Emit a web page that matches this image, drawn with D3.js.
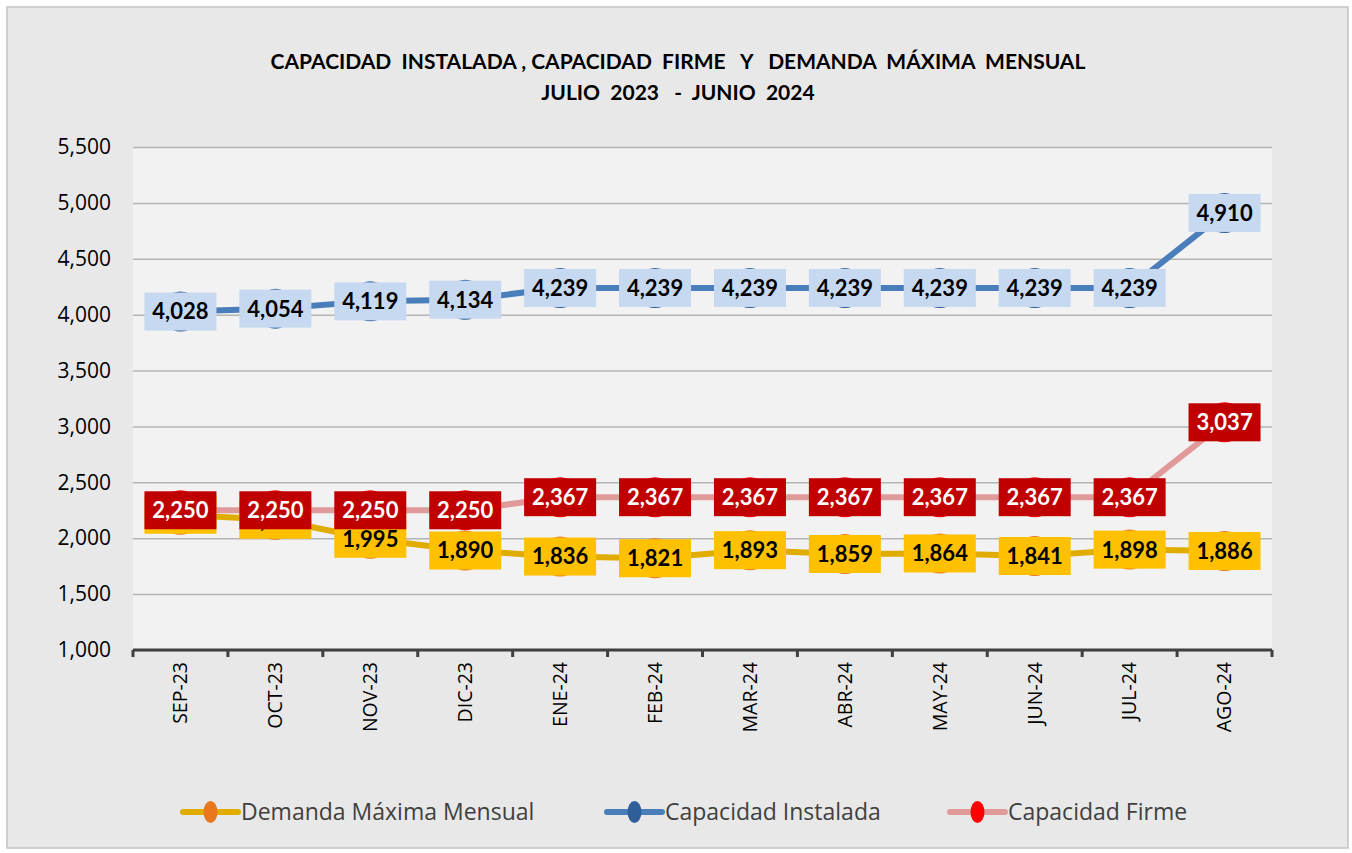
<!DOCTYPE html>
<html>
<head>
<meta charset="utf-8">
<script src="https://cdn.jsdelivr.net/npm/d3@7"></script>
<style>
  body { margin: 0; background: #ffffff; }
  #chart { width: 1352px; height: 853px; }
</style>
</head>
<body>
<div id="chart"></div>
<script>
// Data
const categories = ["SEP-23", "OCT-23", "NOV-23", "DIC-23", "ENE-24", "FEB-24", "MAR-24", "ABR-24", "MAY-24", "JUN-24", "JUL-24", "AGO-24"];
const demanda = [2210, 2165, 1995, 1890, 1836, 1821, 1893, 1859, 1864, 1841, 1898, 1886];
const instalada = [4028, 4054, 4119, 4134, 4239, 4239, 4239, 4239, 4239, 4239, 4239, 4910];
const firme = [2250, 2250, 2250, 2250, 2367, 2367, 2367, 2367, 2367, 2367, 2367, 3037];
const yTicks = [1000, 1500, 2000, 2500, 3000, 3500, 4000, 4500, 5000, 5500];
const titleLines = ["CAPACIDAD  INSTALADA , CAPACIDAD  FIRME   Y   DEMANDA  MÁXIMA  MENSUAL", "JULIO  2023   -  JUNIO  2024"];

const series = [
  { name: "Demanda Máxima Mensual", values: demanda, line: "#e0ac00", marker: "#e8771e", box: "#ffc000", text: "#000000" },
  { name: "Capacidad Instalada", values: instalada, line: "#4a7ebb", marker: "#2f5f98", box: "#c6d9f1", text: "#000000" },
  { name: "Capacidad Firme", values: firme, line: "#e09a9a", marker: "#ff0000", box: "#c00000", text: "#ffffff" }
];

const width = 1352;
const height = 853;
const svg = d3.select("#chart")
  .append("svg")
  .attr("width", width)
  .attr("height", height);

// Outer frame
svg.append("rect")
  .attr("x", 7).attr("y", 7)
  .attr("width", 1341).attr("height", 841)
  .attr("fill", "#e8e8e8")
  .attr("stroke", "#c4c4c4")
  .attr("stroke-width", 1.5);

const plot = { left: 133, right: 1272, top: 147, bottom: 650 };

// Plot area
svg.append("rect")
  .attr("x", plot.left).attr("y", plot.top)
  .attr("width", plot.right - plot.left).attr("height", plot.bottom - plot.top)
  .attr("fill", "#f2f2f2");

// Scales
const x = d3.scaleBand()
  .domain(categories)
  .range([plot.left, plot.right]);
const y = d3.scaleLinear()
  .domain([1000, 5500])
  .range([plot.bottom, plot.top]);
const cx = d => x(d) + x.bandwidth() / 2;

// Title
svg.append("g").selectAll("text")
  .data(titleLines)
  .enter().append("text")
  .attr("x", 678)
  .attr("y", (d, i) => 69 + i * 31)
  .attr("text-anchor", "middle")
  .style("font-family", "Lato, sans-serif")
  .style("font-weight", "bold")
  .style("font-size", "21px")
  .style("white-space", "pre")
  .attr("fill", "#000")
  .text(d => d);

// Gridlines and y labels
const yAxis = svg.append("g")
  .attr("transform", `translate(${plot.left}, 0)`)
  .call(d3.axisLeft(y).tickValues(yTicks).tickSize(-(plot.right - plot.left)).tickPadding(22).tickFormat(d3.format(",")));
yAxis.select(".domain").remove();
yAxis.selectAll(".tick line")
  .attr("stroke", "#b4b4b4")
  .attr("stroke-width", 1.5);
yAxis.selectAll(".tick text")
  .style("font-family", "'Open Sans', sans-serif")
  .style("font-size", "21px")
  .attr("fill", "#000");

// X axis
const xAxis = svg.append("g")
  .attr("transform", `translate(0, ${plot.bottom})`)
  .call(d3.axisBottom(x).tickSize(0).tickPadding(0));
xAxis.select(".domain")
  .attr("stroke", "#404040")
  .attr("stroke-width", 3)
  .attr("d", `M${plot.left},0H${plot.right}`);
xAxis.selectAll(".tick text")
  .attr("transform", "rotate(-90)")
  .attr("x", -12)
  .attr("y", 0)
  .attr("dy", "0.35em")
  .attr("text-anchor", "end")
  .style("font-family", "'Open Sans', sans-serif")
  .style("font-size", "19.5px")
  .attr("fill", "#000");
// tick marks at category boundaries
const bounds = categories.map(c => x(c)).concat([plot.right]);
xAxis.selectAll(".bound")
  .data(bounds)
  .enter().append("line")
  .attr("class", "bound")
  .attr("x1", d => d).attr("x2", d => d)
  .attr("y1", 0).attr("y2", 7)
  .attr("stroke", "#404040")
  .attr("stroke-width", 3);

// Lines
const line = d3.line()
  .x((d, i) => cx(categories[i]))
  .y(d => y(d));

series.forEach(s => {
  svg.append("path")
    .datum(s.values)
    .attr("d", line)
    .attr("fill", "none")
    .attr("stroke", s.line)
    .attr("stroke-width", 6)
    .attr("stroke-linejoin", "round");
});

// Markers
series.forEach(s => {
  svg.append("g").selectAll("circle")
    .data(s.values)
    .enter().append("circle")
    .attr("cx", (d, i) => cx(categories[i]))
    .attr("cy", d => y(d))
    .attr("r", 20)
    .attr("fill", s.marker);
});

// Data labels (the firm labels cover the first two demand labels, as in the original)
const fmt = d3.format(",");
series.forEach(s => {
  const g = svg.append("g").selectAll("g")
    .data(s.values)
    .enter().append("g")
    .attr("transform", (d, i) => `translate(${cx(categories[i])}, ${y(d)})`);
  g.append("rect")
    .attr("x", -36).attr("y", -19)
    .attr("width", 72).attr("height", 38)
    .attr("fill", s.box);
  g.append("text")
    .attr("text-anchor", "middle")
    .attr("dy", "0.36em")
    .style("font-family", "Lato, sans-serif")
    .style("font-weight", "bold")
    .style("font-size", "22px")
    .attr("fill", s.text)
    .text(d => fmt(d));
});

// Legend
const legendX = [183, 607, 950];
const legend = svg.append("g").selectAll("g")
  .data(series)
  .enter().append("g")
  .attr("transform", (d, i) => `translate(${legendX[i]}, 812)`);
legend.append("line")
  .attr("x1", 0).attr("x2", 55)
  .attr("stroke", d => d.line)
  .attr("stroke-width", 6)
  .attr("stroke-linecap", "round");
legend.append("ellipse")
  .attr("cx", 27.5)
  .attr("rx", 7).attr("ry", 11)
  .attr("fill", d => d.marker);
legend.append("text")
  .attr("x", 58)
  .attr("dy", "0.35em")
  .style("font-family", "'Open Sans', sans-serif")
  .style("font-size", "23px")
  .attr("fill", "#404040")
  .text(d => d.name);
</script>
</body>
</html>
